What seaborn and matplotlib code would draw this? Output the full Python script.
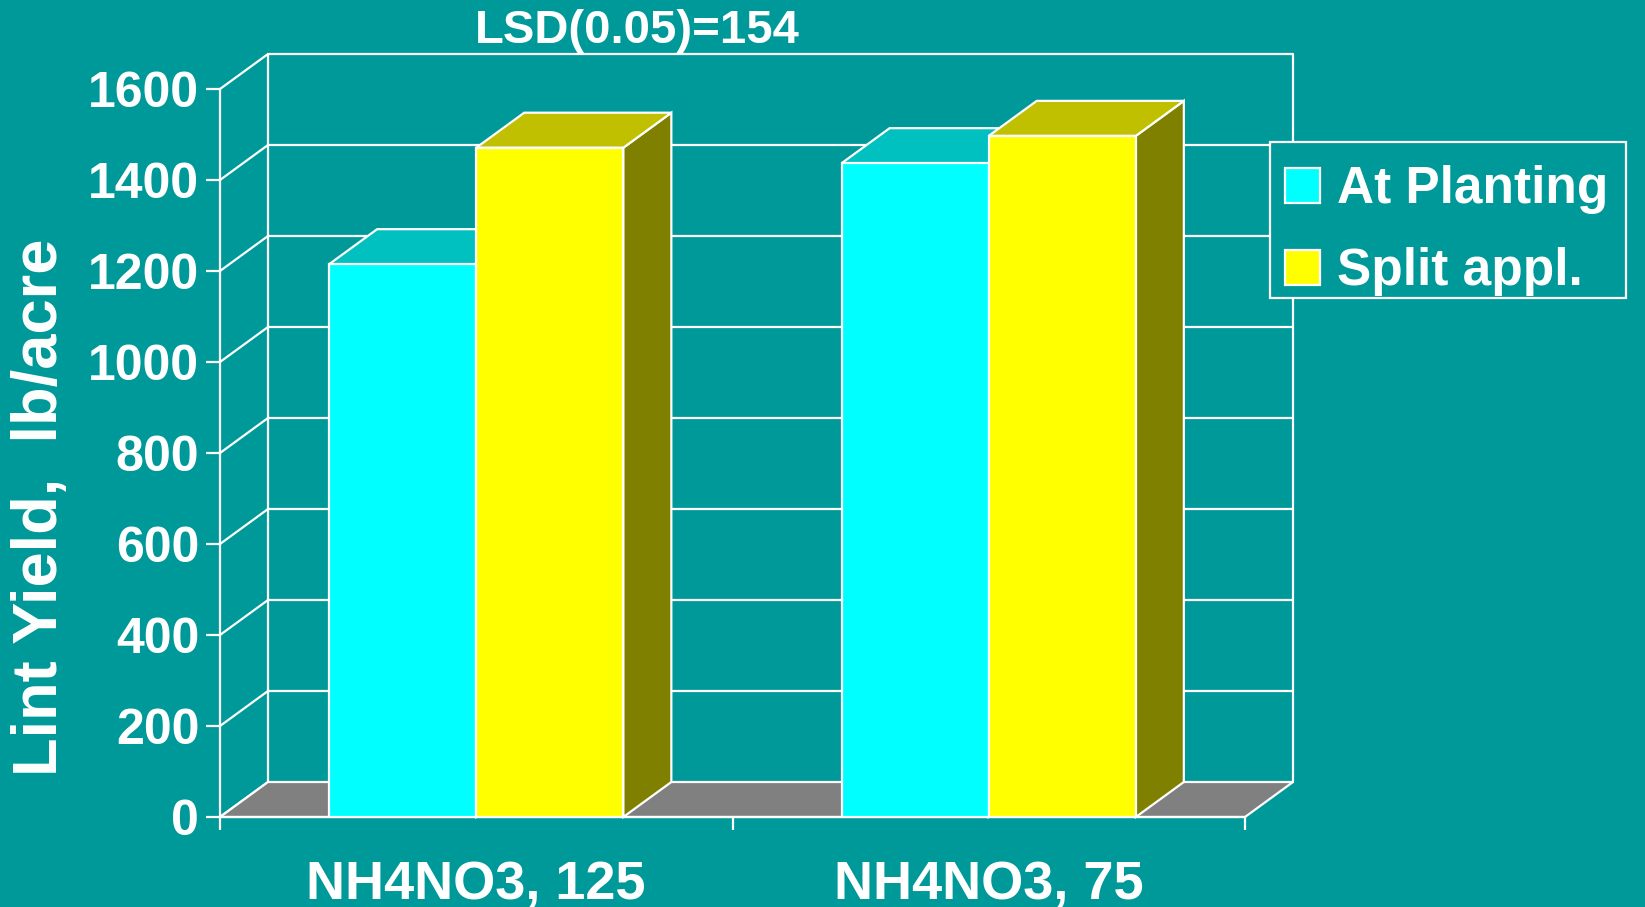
import matplotlib
matplotlib.use("Agg")
import matplotlib.pyplot as plt
import seaborn as sns
import pandas as pd
from matplotlib.patches import Polygon, Patch, Rectangle

# ---- data ----
categories = ["NH4NO3, 125", "NH4NO3, 75"]
series = ["At Planting", "Split appl."]
at_planting = [1215, 1437]
split_appl = [1471, 1497]
y_ticks = [0, 200, 400, 600, 800, 1000, 1200, 1400, 1600]
title_text = "LSD(0.05)=154"
y_label = "Lint Yield,  lb/acre"

df = pd.DataFrame({
    "Treatment": categories * 2,
    "Timing": [series[0]] * len(categories) + [series[1]] * len(categories),
    "Yield": at_planting + split_appl,
})

# ---- style ----
BG = "#009999"
FRONT = {"At Planting": "#00FFFF", "Split appl.": "#FFFF00"}
TOP = {"At Planting": "#00C0C0", "Split appl.": "#C0C000"}
SIDE = {"At Planting": "#008080", "Split appl.": "#808000"}
FLOOR = "#808080"

sns.set_theme(style="white")
plt.rcParams["font.family"] = ["Liberation Sans", "DejaVu Sans"]
plt.rcParams["font.weight"] = "bold"

W, H = 1645, 907
fig = plt.figure(figsize=(W / 100, H / 100), dpi=100, facecolor=BG)
x0, x1, y0, y1 = 220, 1245, 817, 89
ax = fig.add_axes([x0 / W, 1 - y0 / H, (x1 - x0) / W, (y0 - y1) / H])
ax.set_facecolor("none")

sns.barplot(data=df, x="Treatment", y="Yield", hue="Timing",
            palette=[FRONT[s] for s in series], hue_order=series,
            order=categories, width=0.574, gap=0, saturation=1,
            errorbar=None, edgecolor="white", linewidth=1.2,
            legend=False, ax=ax)

bars = sorted([p for p in ax.patches if isinstance(p, Rectangle)],
              key=lambda p: p.get_x())

ax.set_xlim(-0.5, 1.5)
ax.set_ylim(0, 1600)

# depth offset in data units
DX = 48 * 2.0 / (x1 - x0)
DY = 35 * 1600.0 / (y0 - y1)
LW = 1.6

# floor
floor = Polygon([(-0.5, 0), (1.5, 0), (1.5 + DX, DY), (-0.5 + DX, DY)],
                closed=True, facecolor=FLOOR, edgecolor="white", lw=LW,
                zorder=1, clip_on=False)
ax.add_patch(floor)

# walls: gridlines on back wall and side wall
for v in y_ticks:
    if v > 0:
        ax.plot([-0.5 + DX, 1.5 + DX], [v + DY, v + DY], color="white",
                lw=LW, zorder=0.8, clip_on=False, solid_capstyle="butt")
    ax.plot([-0.5, -0.5 + DX], [v, v + DY], color="white", lw=LW,
            zorder=0.8, clip_on=False)
for xb in (-0.5 + DX, 1.5 + DX):
    ax.plot([xb, xb], [DY, 1600 + DY], color="white", lw=LW, zorder=0.8,
            clip_on=False)

# 3D top & side faces for bars
colors_by_front = {v.lower(): k for k, v in FRONT.items()}
for i, b in enumerate(bars):
    x = b.get_x(); w = b.get_width(); h = b.get_height()
    fc = matplotlib.colors.to_hex(b.get_facecolor()).lower()
    s = colors_by_front.get(fc, series[i % 2])
    z = 3 + i * 0.1
    b.set_zorder(z + 0.05)
    b.set_linewidth(LW)
    top = Polygon([(x, h), (x + w, h), (x + w + DX, h + DY), (x + DX, h + DY)],
                  closed=True, facecolor=TOP[s], edgecolor="white", lw=LW,
                  zorder=z, clip_on=False)
    side = Polygon([(x + w, 0), (x + w + DX, DY), (x + w + DX, h + DY), (x + w, h)],
                   closed=True, facecolor=SIDE[s], edgecolor="white", lw=LW,
                   zorder=z, clip_on=False)
    ax.add_patch(side)
    ax.add_patch(top)

# axes, ticks
for sp in ("top", "right"):
    ax.spines[sp].set_visible(False)
for sp in ("left", "bottom"):
    ax.spines[sp].set_color("white")
    ax.spines[sp].set_linewidth(LW)
    ax.spines[sp].set_zorder(2)

ax.set_yticks(y_ticks)
ax.set_yticklabels([str(v) for v in y_ticks])
ax.tick_params(axis="y", colors="white", length=10, width=LW, pad=5,
               labelsize=36, direction="out", left=True)
ax.set_xticks([0, 1])
ax.set_xticklabels(categories)
ax.set_xticks([-0.5, 0.5, 1.5], minor=True)
ax.tick_params(axis="x", which="major", length=0, pad=31, labelsize=39,
               colors="white")
ax.tick_params(axis="x", which="minor", length=9, width=LW, colors="white",
               direction="out", bottom=True)
for t in ax.get_xticklabels() + ax.get_yticklabels():
    t.set_fontweight("bold")

ax.set_xlabel("")
ax.set_ylabel(y_label, fontsize=45.5, color="white", fontweight="bold")
ax.yaxis.label.set_verticalalignment("center")
ax.yaxis.set_label_coords((41 - x0) / (x1 - x0), (y0 - 507) / (y0 - y1))

fig.text(637 / W, 1 - 31 / H, title_text, ha="center", va="center",
         fontsize=34, color="white", fontweight="bold")

# legend frame (filled, covers wall lines) + legend entries
lx0, ly0, lx1, ly1 = 1270, 142, 1626, 298
frame = Rectangle((lx0 / W, 1 - ly1 / H), (lx1 - lx0) / W, (ly1 - ly0) / H,
                  transform=fig.transFigure, facecolor=BG, edgecolor="white",
                  lw=LW, zorder=4)
fig.add_artist(frame)
handles = [Patch(facecolor=FRONT[s], edgecolor="white", lw=LW) for s in series]
leg = fig.legend(handles, series, loc="upper left",
                 bbox_to_anchor=(1270 / W, 1 - 150 / H), borderaxespad=0,
                 frameon=False,
                 prop={"size": 37, "weight": "bold"}, labelcolor="white",
                 handlelength=0.68, handleheight=0.68, handletextpad=0.33,
                 borderpad=0.3, labelspacing=0.64)
leg.set_zorder(5)

fig.savefig("out.png", dpi=100, facecolor=BG)
